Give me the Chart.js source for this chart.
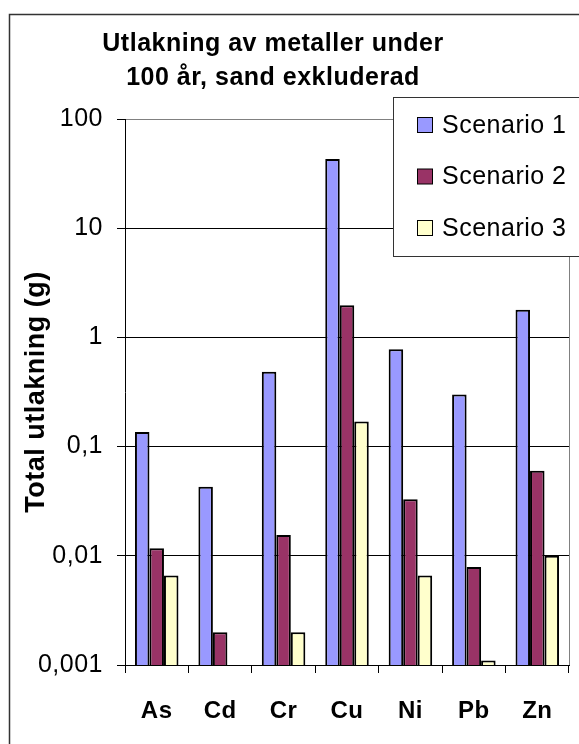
<!DOCTYPE html>
<html>
<head>
<meta charset="utf-8">
<title>Utlakning av metaller under 100 år</title>
<script src="https://cdn.jsdelivr.net/npm/chart.js@4/dist/chart.umd.min.js"></script>
<style>
  html, body { margin: 0; padding: 0; background: #fff; }
  #wrap { width: 579px; height: 744px; }
</style>
</head>
<body>
<div id="wrap"><canvas id="c" width="579" height="744"></canvas></div>
<script>
// Metals on the x axis
const categories = ['As', 'Cd', 'Cr', 'Cu', 'Ni', 'Pb', 'Zn'];

// Total leaching (g) per scenario; null = nothing above the axis minimum
const scenario1 = [0.136, 0.043, 0.485, 43, 0.78, 0.30, 1.79];
const scenario2 = [0.0117, 0.0020, 0.0155, 1.97, 0.033, 0.0079, 0.060];
const scenario3 = [0.0066, null, 0.0020, 0.17, 0.0066, 0.0011, 0.010];

const seriesNames = ['Scenario 1', 'Scenario 2', 'Scenario 3'];

// Decade ticks on the log axis and their Swedish-style labels
const yTickValues = [0.001, 0.01, 0.1, 1, 10, 100];
const yTickLabels = ['0,001', '0,01', '0,1', '1', '10', '100'];

const titleLines = ['Utlakning av metaller under', '100 år, sand exkluderad'];
const yAxisTitle = 'Total utlakning (g)';

const FONT = '"Liberation Sans", Arial, sans-serif';
const SPACING = '0.5px';

// Slight letter spacing for all canvas text
const spacingPlugin = {
  id: 'spacing',
  beforeUpdate(chart) { chart.ctx.letterSpacing = SPACING; },
  beforeDraw(chart) { chart.ctx.letterSpacing = SPACING; }
};

// Outer chart frame, title, plot border and the floating legend box
const decorPlugin = {
  id: 'decor',
  beforeDraw(chart) {
    const ctx = chart.ctx;
    ctx.save();
    ctx.fillStyle = '#fff';
    ctx.fillRect(0, 0, chart.width, chart.height);
    ctx.strokeStyle = '#333';
    ctx.lineWidth = 1.5;
    ctx.strokeRect(9.5, 14.5, chart.width + 20, chart.height + 20);
    // title
    ctx.letterSpacing = SPACING;
    ctx.fillStyle = '#000';
    ctx.font = 'bold 25px ' + FONT;
    ctx.textAlign = 'center';
    ctx.textBaseline = 'alphabetic';
    ctx.fillText(titleLines[0], 273, 51);
    ctx.fillText(titleLines[1], 273, 85);
    ctx.restore();
  },
  afterDatasetsDraw(chart) {
    const ctx = chart.ctx;
    const a = chart.chartArea;
    ctx.save();
    ctx.strokeStyle = '#808080';
    ctx.lineWidth = 1;
    ctx.beginPath();
    ctx.moveTo(Math.round(a.right) + 0.5, a.top);
    ctx.lineTo(Math.round(a.right) + 0.5, a.bottom);
    ctx.stroke();
    ctx.restore();
  },
  afterDraw(chart) {
    const ctx = chart.ctx;
    ctx.save();
    ctx.letterSpacing = SPACING;
    const bx = 393.5, by = 97.5, bh = 159;
    ctx.fillStyle = '#fff';
    ctx.fillRect(bx, by, chart.width, bh);
    ctx.strokeStyle = '#333';
    ctx.lineWidth = 1;
    ctx.strokeRect(bx, by, chart.width, bh);
    ctx.font = '25px ' + FONT;
    ctx.textAlign = 'left';
    ctx.textBaseline = 'middle';
    chart.data.datasets.forEach((ds, i) => {
      const cy = 125 + i * 51.5;
      ctx.fillStyle = ds.backgroundColor;
      ctx.fillRect(417.5, cy - 7.5, 15, 15);
      ctx.strokeStyle = '#000';
      ctx.strokeRect(417.5, cy - 7.5, 15, 15);
      ctx.fillStyle = '#000';
      ctx.fillText(ds.label, 442, cy + 1);
    });
    ctx.restore();
  }
};

const colors = ['#9999FF', '#993366', '#FFFFCC'];
const values = [scenario1, scenario2, scenario3];

new Chart(document.getElementById('c'), {
  type: 'bar',
  data: {
    labels: categories,
    datasets: values.map((v, i) => ({
      label: seriesNames[i],
      data: v,
      backgroundColor: colors[i],
      borderColor: '#000',
      borderWidth: 2,
      borderSkipped: 'bottom',
      categoryPercentage: 0.686,
      barPercentage: 1
    }))
  },
  options: {
    responsive: false,
    devicePixelRatio: 1,
    animation: false,
    layout: { padding: { left: 12, right: 10, top: 119, bottom: 0 } },
    plugins: {
      legend: { display: false },
      title: { display: false },
      tooltip: { enabled: false }
    },
    scales: {
      x: {
        offset: true,
        grid: {
          offset: true,
          drawOnChartArea: false,
          drawTicks: true,
          tickLength: 8,
          color: '#000',
          lineWidth: 1
        },
        border: { color: '#000', width: 1 },
        ticks: {
          color: '#000',
          padding: 24,
          maxRotation: 0,
          font: { family: FONT, size: 24, weight: 'bold' }
        },
        afterFit(scale) { scale.height = 79; }
      },
      y: {
        type: 'logarithmic',
        min: 0.001,
        max: 100,
        grid: {
          color: ctx => (ctx.tick && ctx.tick.value === 100 ? '#808080' : '#000'),
          tickColor: '#000',
          tickLength: 8,
          lineWidth: 1
        },
        border: { color: '#000', width: 1 },
        afterBuildTicks(scale) {
          scale.ticks = yTickValues.map(v => ({ value: v, major: false }));
        },
        ticks: {
          color: '#000',
          padding: 14,
          autoSkip: false,
          font: { family: FONT, size: 25 },
          callback: (value) => {
            const i = yTickValues.findIndex(t => Math.abs(t - value) / t < 1e-6);
            return i >= 0 ? yTickLabels[i] : '';
          }
        },
        title: {
          display: true,
          text: yAxisTitle,
          color: '#000',
          font: { family: FONT, size: 27, weight: 'bold' },
          padding: { top: 8, bottom: 0 }
        },
        afterFit(scale) { scale.width = 125 - 12; }
      }
    }
  },
  plugins: [spacingPlugin, decorPlugin]
});
</script>
</body>
</html>
